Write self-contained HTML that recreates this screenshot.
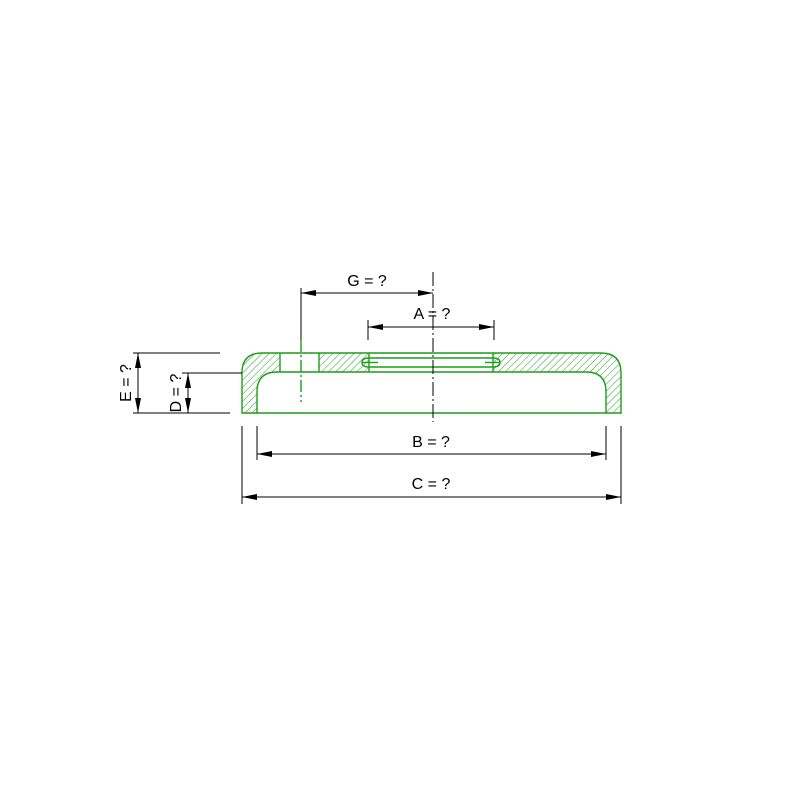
<!DOCTYPE html>
<html><head><meta charset="utf-8"><style>body{margin:0;background:#fff}svg{display:block}text{font-family:"Liberation Sans",sans-serif;font-size:16px;fill:#000}</style></head><body>
<svg width="800" height="800" viewBox="0 0 800 800" xmlns="http://www.w3.org/2000/svg">
<defs>
<pattern id="h" patternUnits="userSpaceOnUse" width="5" height="5" patternTransform="rotate(45)">
<line x1="0" y1="0" x2="0" y2="5" stroke="#2a9a2a" stroke-width="1"/>
</pattern>
<marker id="a" markerWidth="15" markerHeight="6" refX="15" refY="3" orient="auto-start-reverse" markerUnits="userSpaceOnUse"><path d="M0,0 L15,3 L0,6 Z" fill="#000"/></marker>
</defs>
<path d="M242,413 L242,373 Q242,353 262,353 L601,353 Q621,353 621,373 L621,413 L606,413 L606,392 Q606,372 586,372 L277,372 Q257,372 257,392 L257,413 Z" fill="url(#h)"/>
<rect x="280" y="354" width="39" height="18" fill="#fff"/>
<rect x="369" y="354" width="124" height="18" fill="#fff"/>
<g fill="none" stroke="#1a9e1a" stroke-width="1.4">
<path d="M242,413 L242,373 Q242,353 262,353 L601,353 Q621,353 621,373 L621,413 L606,413 L606,392 Q606,372 586,372 L277,372 Q257,372 257,392 L257,413 Z"/>
<line x1="257" y1="413" x2="606" y2="413"/>
<line x1="280" y1="353" x2="280" y2="372"/>
<line x1="319" y1="353" x2="319" y2="372"/>
<line x1="369" y1="353" x2="369" y2="372"/>
<line x1="493" y1="353" x2="493" y2="372"/>
<path d="M369,358 L493,358 Q500,358 500,362.5 Q500,367 493,367 L369,367 Q362,367 362,362.5 Q362,358 369,358"/>
<line x1="362" y1="362.5" x2="378" y2="362.5"/>
<line x1="485" y1="362.5" x2="500" y2="362.5"/>
<line x1="301" y1="340" x2="301" y2="402" stroke-dasharray="12,3,2,3"/>
</g>
<g stroke="#000" stroke-width="1" fill="none">
<line x1="433" y1="272" x2="433" y2="422" stroke-dasharray="14,3,2,3"/>
<line x1="301" y1="288" x2="301" y2="340"/>
<line x1="301" y1="293" x2="433" y2="293" marker-start="url(#a)" marker-end="url(#a)"/>
<line x1="368" y1="320" x2="368" y2="340"/>
<line x1="494" y1="320" x2="494" y2="340"/>
<line x1="368" y1="327" x2="494" y2="327" marker-start="url(#a)" marker-end="url(#a)"/>
<line x1="257" y1="426" x2="257" y2="460"/>
<line x1="606" y1="426" x2="606" y2="460"/>
<line x1="257" y1="454" x2="606" y2="454" marker-start="url(#a)" marker-end="url(#a)"/>
<line x1="242" y1="426" x2="242" y2="504"/>
<line x1="621" y1="426" x2="621" y2="504"/>
<line x1="242" y1="497" x2="621" y2="497" marker-start="url(#a)" marker-end="url(#a)"/>
<line x1="133" y1="353" x2="220" y2="353"/>
<line x1="133" y1="413" x2="230" y2="413"/>
<line x1="138" y1="353" x2="138" y2="413" marker-start="url(#a)" marker-end="url(#a)"/>
<line x1="182" y1="373" x2="242" y2="373"/>
<line x1="188" y1="373" x2="188" y2="413" marker-start="url(#a)" marker-end="url(#a)"/>
</g>
<text x="367" y="286" text-anchor="middle">G = ?</text>
<text x="432" y="319" text-anchor="middle">A = ?</text>
<text x="431" y="447" text-anchor="middle">B = ?</text>
<text x="431" y="489" text-anchor="middle">C = ?</text>
<text transform="translate(131,383) rotate(-90)" text-anchor="middle">E = ?</text>
<text transform="translate(181,393) rotate(-90)" text-anchor="middle">D = ?</text>
</svg>
</body></html>
